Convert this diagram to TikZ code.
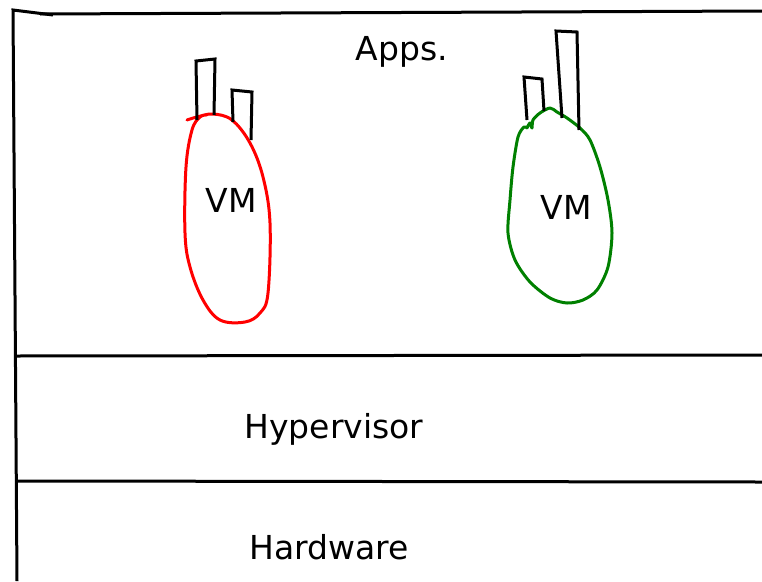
\documentclass[tikz,border=0pt]{standalone}
\usepackage{fontspec}
\setmainfont{DejaVu Sans}
\tikzset{
  layerline/.style = {line width=3pt, black},
  appbox/.style    = {line width=3pt, black, line join=miter},
  vmred/.style     = {line width=3pt, red, line cap=round, line join=round},
  vmgreen/.style   = {line width=3pt, green!50!black, line cap=round, line join=round},
  lab/.style       = {font=\fontsize{33}{40}\selectfont, inner sep=0pt},
}
\begin{document}
\begin{tikzpicture}[x=1pt, y=-1pt]
  \useasboundingbox (0,0) rectangle (762,581);
  % frame and layers
  \coordinate (tl) at (13,10);
  \coordinate (tk) at (53,15);
  \coordinate (tr) at (762,11);
  \coordinate (bl) at (17,581);
  \coordinate (ml) at (15,356);
  \coordinate (mr) at (762,355);
  \coordinate (hl) at (16,481);
  \coordinate (hr) at (762,482);
  \draw[layerline] (tk) -- (tl) -- (bl);
  \draw[layerline] (40,14) -- (tr);
  \draw[layerline] (ml) -- (mr);
  \draw[layerline] (hl) -- (hr);
  \node[lab] (apps) at (402,52) {Apps.};
  \node[lab] (hyp)  at (334,429) {Hypervisor};
  \node[lab] (hw)   at (329,547) {Hardware};
  % red vm
  \draw[vmred] plot[smooth, tension=0.6] coordinates {(187,120) (197,117) (213,114) (232,120) (250,143)
    (263,177) (270,223) (268,293) (260,313) (245,322) (220,320) (203,300) (190,267) (185,233)
    (186,167) (192,130) (200,117) (207,115)};
  \node[lab] (vm1) at (231,200) {VM};
  \draw[appbox] (197,120) -- (196,61) -- (215,59) -- (214,115);
  \draw[appbox] (233,122) -- (232,90) -- (252,92) -- (251,140);
  % green vm
  \draw[vmgreen] plot[smooth, tension=0.5] coordinates {(527,128) (530,123) (532,128) (533,120)
    (540,113) (550,108) (557,112) (567,118) (580,128) (590,140) (600,167) (608,200) (612,233)
    (608,267) (597,290) (583,300) (567,303) (550,298) (530,282) (515,260) (508,233) (510,200)
    (513,167) (518,137) (524,127) (527,128)};
  \node[lab] (vm2) at (566,207) {VM};
  \draw[appbox] (527,120) -- (524,77) -- (542,79) -- (544,111);
  \draw[appbox] (562,118) -- (556,31) -- (577,32) -- (579,130);
\end{tikzpicture}
\end{document}
